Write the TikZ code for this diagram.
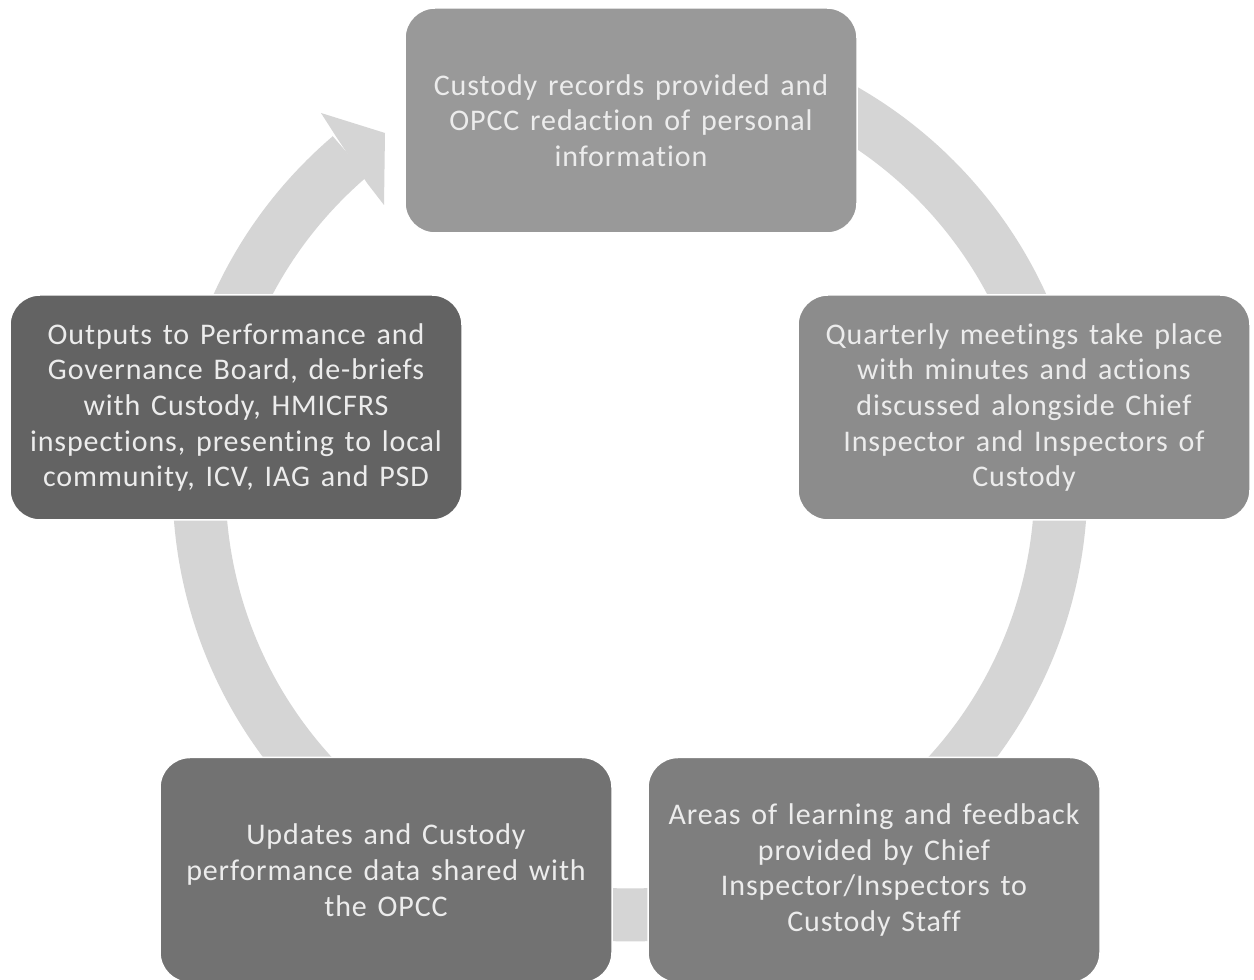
\documentclass[tikz,border=0pt]{standalone}
\usepackage{fontspec}
\setmainfont{Carlito}[Ligatures=NoCommon, LetterSpace=3, WordSpace=1.4]
\definecolor{ringgray}{HTML}{D5D5D5}
\definecolor{c1}{HTML}{999999}
\definecolor{c2}{HTML}{8C8C8C}
\definecolor{c3}{HTML}{7E7E7E}
\definecolor{c4}{HTML}{727272}
\definecolor{c5}{HTML}{636363}
\definecolor{txt}{HTML}{ECECEC}
\begin{document}
\begin{tikzpicture}[x=1pt,y=1pt,
  box/.style={rounded corners=30pt, draw=white, line width=1.5pt,
    minimum width=452pt, minimum height=225pt, align=center, text=txt,
    font=\fontsize{30}{35.7}\selectfont, inner sep=0pt},
  ring/.style={line width=53pt, draw=ringgray}]
\useasboundingbox[fill=white] (0,0) rectangle (1254,980);
% ring
\coordinate (c) at (630,496);
\draw[ring] (c) ++(130.5:431) arc[start angle=130.5, end angle=425, radius=431];
\fill[ringgray] (337,842) -- (321,867) -- (385,847) -- (384,775) -- (367,797) -- cycle;
% boxes
\node[box, fill=c1] (n1) at (631,859.5) {Custody records provided and\\OPCC redaction of personal\\information};
\node[box, fill=c2] (n2) at (1024,572.5) {Quarterly meetings take place\\with minutes and actions\\discussed alongside Chief\\Inspector and Inspectors of\\Custody};
\node[box, fill=c3] (n3) at (874,110) {Areas of learning and feedback\\provided by Chief\\Inspector/Inspectors to\\Custody Staff};
\node[box, fill=c4] (n4) at (386,110) {Updates and Custody\\performance data shared with\\the OPCC};
\node[box, fill=c5] (n5) at (236,572.5) {Outputs to Performance and\\Governance Board, de-briefs\\with Custody, HMICFRS\\inspections, presenting to local\\community, ICV, IAG and PSD};
\end{tikzpicture}
\end{document}
